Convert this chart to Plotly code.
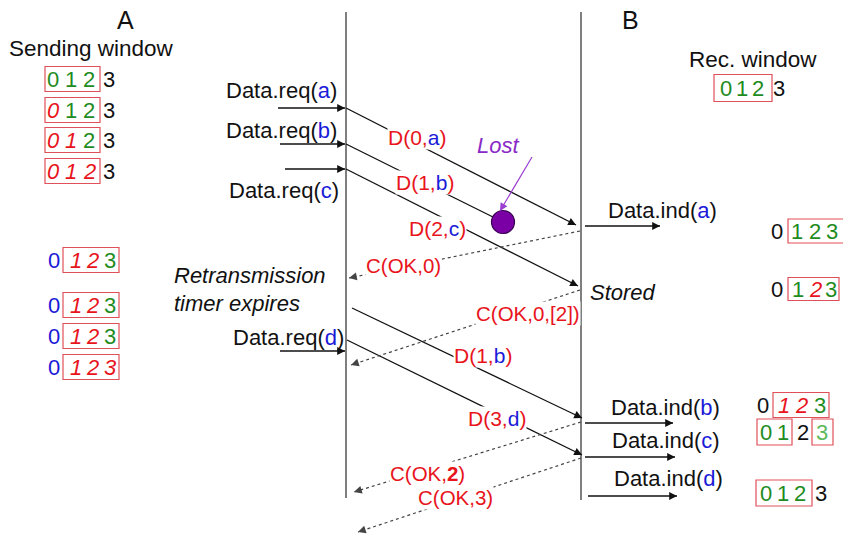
import plotly.graph_objects as go

# ---------------- data ----------------
DIGITS = ["0", "1", "2", "3"]

# sender window states (top block, then after C(OK,0))
send_top_states = [
    ["free", "free", "free", "out"],
    ["sent", "free", "free", "out"],
    ["sent", "sent", "free", "out"],
    ["sent", "sent", "sent", "out"],
]
send_bottom_states = [
    ["acked", "sent", "sent", "free"],
    ["acked", "sent", "sent", "free"],
    ["acked", "sent", "sent", "free"],
    ["acked", "sent", "sent", "sent"],
]
recv_states = [
    ["free", "free", "free", "out"],
    ["done", "free", "free", "free"],
    ["done", "free", "stored", "free"],
    ["done", "stored", "stored", "free"],
    ["free", "free", "done", "new"],
    ["free", "free", "free", "out"],
]

req_labels = ["a", "b", "c", "d"]
ind_labels = ["a", "b", "c", "d"]
data_msgs = [("0", "a"), ("1", "b"), ("2", "c"), ("1", "b"), ("3", "d")]
ctrl_msgs = ["C(OK,0)", "C(OK,0,[2])", "C(OK,<b>2</b>)", "C(OK,3)"]

# ---------------- styles / geometry ----------------
FONT = "Liberation Sans, Arial, sans-serif"
RED = "#e8141c"
GREEN = "#1e8c1e"
BLUE = "#1a1ad8"
BLACK = "#111111"
LGREEN = "#5cb85c"
BOXC = "#e0505a"

STYLE = {
    "free": (GREEN, False),
    "sent": (RED, True),
    "out": (BLACK, False),
    "acked": (BLUE, False),
    "done": (BLACK, False),
    "stored": (RED, True),
    "new": (LGREEN, False),
}

XA, XB = 346, 581

fig = go.Figure()
ann = []
shapes = []


def txt(x, y, s, size=21, color=BLACK, italic=False, bg=None, xanchor="center"):
    if italic:
        s = "<i>" + s + "</i>"
    d = dict(x=x, y=y, text=s, showarrow=False, xanchor=xanchor, yanchor="middle",
             font=dict(family=FONT, size=size, color=color))
    if bg:
        d.update(bgcolor=bg, borderpad=0)
    ann.append(d)


def box(x0, x1, yc, h=25):
    shapes.append(dict(type="rect", x0=x0, x1=x1, y0=yc - h / 2, y1=yc + h / 2,
                       line=dict(color=BOXC, width=1.2), layer="above"))


def line(x0, y0, x1, y1, dash="solid", color=BLACK, width=1.3, head=True):
    fig.add_trace(go.Scatter(x=[x0, x1], y=[y0, y1], mode="lines",
                             line=dict(color=color, width=width, dash=dash),
                             hoverinfo="skip", showlegend=False))
    if head:
        dx, dy = x1 - x0, y1 - y0
        n = (dx * dx + dy * dy) ** 0.5
        ann.append(dict(x=x1, y=y1, ax=x1 - dx / n * 6, ay=y1 - dy / n * 6,
                        axref="x", ayref="y", xref="x", yref="y", text="",
                        showarrow=True, arrowhead=2, arrowsize=1.3, arrowwidth=1.2,
                        arrowcolor=color))


def window(states, xs, yc, size=22):
    for d, st, x in zip(DIGITS, states, xs):
        c, it = STYLE[st]
        txt(x, yc, d, size=size, color=c, italic=it)


# vertical time lines
line(XA, 12, XA, 498, color="#555555", width=1.5, head=False)
line(XB, 12, XB, 500, color="#555555", width=1.5, head=False)

# headings
txt(125, 20, "A", size=25)
txt(630, 20, "B", size=25)
txt(91, 48, "Sending window", size=22.5)
txt(753, 59, "Rec. window", size=22.5)

# sender windows
top_y = [79, 110, 140, 171]
for st, y in zip(send_top_states, top_y):
    box(45, 100, y)
    window(st, [53, 71, 89, 109], y)
bot_y = [260, 305, 336, 367]
for st, y in zip(send_bottom_states, bot_y):
    box(63, 119, y)
    window(st, [54, 76, 92, 110], y)

# receiver windows
box(714, 772, 88, 27)
window(recv_states[0], [726, 742, 758, 779], 88)
box(788, 845, 231, 24)
window(recv_states[1], [777, 797, 815, 832], 231)
box(788, 839, 289, 23)
window(recv_states[2], [777, 798, 815, 831], 289)
box(773, 829, 405, 25)
window(recv_states[3], [763, 784, 801, 820], 405)
box(757, 792, 432, 26)
box(812, 833, 432, 26)
window(recv_states[4], [766, 783, 803, 822], 432)
box(756, 812, 493, 26)
window(recv_states[5], [766, 783, 800, 821], 493)

# Data.req
req_text_pos = [(281, 90), (281, 130), (284, 190), (288, 337)]
req_arrow = [(278, 108), (280, 144), (285, 169), (280, 351)]
for lab, (tx, ty), (ax_, ay_) in zip(req_labels, req_text_pos, req_arrow):
    txt(tx, ty, 'Data.req(<span style="color:%s">%s</span>)' % (BLUE, lab), size=22)
    line(ax_, ay_, XA - 1, ay_)

# Data.ind
ind_text_pos = [(662, 210), (665, 407), (666, 440), (668, 478)]
ind_arrow = [(585, 660, 226), (585, 673, 423), (585, 675, 457), (588, 677, 496)]
for lab, (tx, ty), (x0, x1, ay_) in zip(ind_labels, ind_text_pos, ind_arrow):
    txt(tx, ty, 'Data.ind(<span style="color:%s">%s</span>)' % (BLUE, lab), size=22)
    line(x0, ay_, x1, ay_)

txt(172, 275, "Retransmission", size=22, italic=True, xanchor="left")
txt(172, 303, "timer expires", size=22, italic=True, xanchor="left")
txt(588, 292, "Stored", size=22, italic=True, xanchor="left")

# data frames A -> B
data_geom = [(346, 108, 576, 225), (346, 144, 503, 222), (346, 169, 578, 286),
             (352, 308, 582, 418), (347, 340, 582, 455)]
data_lab_pos = [(417, 137), (425, 182), (437, 228), (483, 355), (497, 418)]
for i, ((seq, p), (x0, y0, x1, y1), (lx, ly)) in enumerate(zip(data_msgs, data_geom, data_lab_pos)):
    line(x0, y0, x1, y1, head=(i != 1))
    txt(lx, ly, 'D(%s,<span style="color:%s">%s</span>)' % (seq, BLUE, p),
        size=21, color=RED, bg="white")

# lost frame
fig.add_trace(go.Scatter(x=[503], y=[222], mode="markers",
                         marker=dict(size=23, color="#7a00a6", line=dict(color="#3a0050", width=1.2)),
                         hoverinfo="skip", showlegend=False))
line(532, 157, 500, 211, color="#9b3fd0", width=1.2)
txt(498, 145, "Lost", size=22, color="#8a2ac8", italic=True)

# control frames B -> A (dotted)
ctrl_geom = [(580, 231, 349, 278), (580, 290, 351, 365), (581, 422, 354, 492), (581, 458, 358, 532)]
ctrl_lab_pos = [(403, 265), (528, 313), (427, 473), (455, 497)]
for lab, (x0, y0, x1, y1), (lx, ly) in zip(ctrl_msgs, ctrl_geom, ctrl_lab_pos):
    line(x0, y0, x1, y1, dash="dot", color="#444444", width=1.2)
    txt(lx, ly, lab, size=20.5, color=RED, bg="white")

fig.update_layout(
    width=843, height=534,
    margin=dict(l=0, r=0, t=0, b=0),
    paper_bgcolor="white", plot_bgcolor="white",
    xaxis=dict(range=[0, 843], visible=False, fixedrange=True),
    yaxis=dict(range=[534, 0], visible=False, fixedrange=True),
    annotations=ann, shapes=shapes, showlegend=False,
)
fig.write_html("out.html", config={"displayModeBar": False},
               post_script="document.body.style.margin='0';document.body.style.overflow='hidden';")
